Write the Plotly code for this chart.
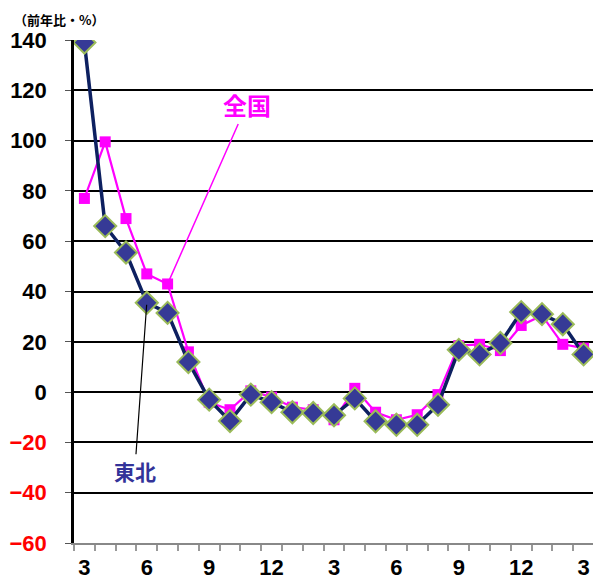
import plotly.graph_objects as go

months = ["3","4","5","6","7","8","9","10","11","12","1","2",
          "3","4","5","6","7","8","9","10","11","12","1","2","3"]
zenkoku = [77, 99.5, 69, 47, 43, 16, -4, -7, 0.5, -2, -6, -7, -11, 1.5,
           -8, -11, -9, -1, 18.5, 19, 16.5, 26.5, 30.5, 19, 17.5]
tohoku = [139, 66, 55.5, 35.5, 31.5, 12, -3, -11.5, -1, -4, -8, -8.3, -9.2,
          -2.5, -11.6, -13, -13, -5, 16.8, 15, 19.5, 31.8, 31, 27, 15]
x_tick_labels = ["3", "6", "9", "12", "3", "6", "9", "12", "3"]
y_ticks = [-60, -40, -20, 0, 20, 40, 60, 80, 100, 120, 140]

xs = list(range(len(months)))
FONT = "Liberation Sans, Arial, sans-serif"
CJK = "Noto Sans CJK JP, sans-serif"

fig = go.Figure()
fig.add_trace(go.Scatter(
    x=xs, y=zenkoku, mode="lines+markers", name="全国",
    line=dict(color="#FF00FF", width=2.2),
    marker=dict(symbol="square", size=11, color="#FF00FF"),
))
fig.add_trace(go.Scatter(
    x=xs, y=tohoku, mode="lines+markers", name="東北",
    line=dict(color="#0D2060", width=3.5),
    marker=dict(symbol="diamond", size=17, color="#363A96",
                line=dict(color="#9BBB59", width=2)),
))

def ylab(v):
    s = str(v) if v >= 0 else "\u2212" + str(-v)
    if v < 0:
        return '<span style="color:#FF0000">' + s + "</span>"
    return s

# page body has an 8px default margin, so the figure is sized to fit the window
fig.update_layout(
    width=593, height=572,
    margin=dict(l=66, r=7, t=32, b=37),
    paper_bgcolor="white", plot_bgcolor="white",
    showlegend=False,
    font=dict(family=FONT, size=20, color="black"),
)
fig.update_yaxes(
    range=[-60, 140], tickvals=y_ticks, ticktext=[ylab(v) for v in y_ticks],
    tickfont=dict(family=FONT, size=22, color="black", weight="bold"),
    showgrid=True, gridcolor="black", gridwidth=1.5,
    zeroline=True, zerolinecolor="black", zerolinewidth=1.5,
    showline=True, linecolor="black", linewidth=2.5, mirror=True,
    ticks="outside", ticklen=6, tickcolor="#555555", tickwidth=1,
    ticklabelstandoff=14, automargin=False,
)
fig.update_xaxes(
    range=[-0.5, len(months) - 0.5],
    tickvals=xs[::3], ticktext=x_tick_labels,
    tickfont=dict(family=FONT, size=22, color="black", weight="bold"),
    showgrid=False, zeroline=False,
    showline=True, linecolor="#888888", linewidth=2,
    ticks="", ticklabelstandoff=4, automargin=False,
    minor=dict(tickvals=[i - 0.5 for i in range(len(months) + 1)],
               ticks="outside", ticklen=6, tickcolor="#999999", tickwidth=1.5),
)

fig.add_annotation(
    x=4, y=zenkoku[4], ax=79, ay=-179,
    xref="x", yref="y", text="<b>全国</b>", showarrow=True,
    arrowhead=0, arrowcolor="#FF00FF", arrowwidth=1.5, standoff=2,
    font=dict(family=CJK, size=24, color="#FF00FF"),
)
fig.add_annotation(
    x=3, y=tohoku[3], ax=-12, ay=168,
    xref="x", yref="y", text="<b>東北</b>", showarrow=True,
    arrowhead=0, arrowcolor="black", arrowwidth=1.2, standoff=2,
    font=dict(family=CJK, size=21, color="#333399"),
)
fig.add_annotation(
    x=-0.117, y=1.0616, xref="paper", yref="paper", xanchor="left", yanchor="top",
    text="<b>（前年比・%）</b>", showarrow=False, borderpad=0,
    font=dict(family=CJK, size=13, color="black"),
)
fig.write_html("out.html")
